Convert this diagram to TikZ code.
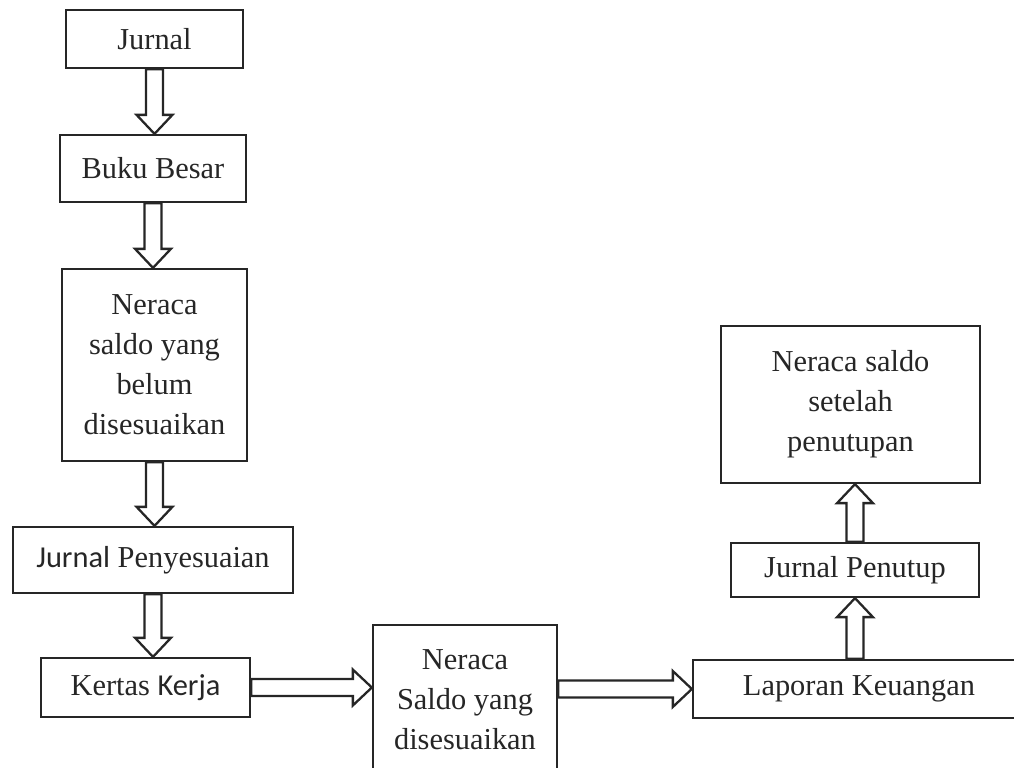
\documentclass[tikz,border=0pt]{standalone}
\usepackage{fontspec}
\setmainfont{Liberation Serif}
\newfontfamily\sansjr{Carlito}
\usetikzlibrary{calc}

\tikzset{
  box/.style={draw=black!85, line width=1.3pt, text=black!85, align=center, inner sep=0pt,
    font=\fontsize{17.3}{22.8}\selectfont},
  fatarrow/.style={draw=black!85, line width=1.3pt, fill=white, line join=miter},
}
\newcommand{\fatarrow}[2]{%
  \draw[fatarrow] let \p1=($(#2)-(#1)$), \n1={atan2(\y1,\x1)}, \n2={veclen(\x1,\y1)} in
    [shift={(#1)}, rotate=\n1] (0pt,-4.8pt) -- ({\n2*1pt-10.8pt},-4.8pt) -- ({\n2*1pt-10.8pt},-10.2pt)
    -- ({\n2*1pt},0pt) -- ({\n2*1pt-10.8pt},10.2pt) -- ({\n2*1pt-10.8pt},4.8pt) -- (0pt,4.8pt) -- cycle;}

\begin{document}
\begin{tikzpicture}[x=0.2mm,y=-0.2mm]
\useasboundingbox (0,0) rectangle (1014,767);

\node[box, minimum width=35.4mm, minimum height=11.6mm] (jurnal) at (154.5,39) {Jurnal};
\node[box, minimum width=37.2mm, minimum height=13.4mm] (buku) at (153,168.5) {Buku Besar};
\node[box, minimum width=37mm, minimum height=38.4mm] (belum) at (154.5,365) {Neraca\\saldo yang\\belum\\disesuaikan};
\node[box, minimum width=56mm, minimum height=13.2mm] (penyesuaian) at (153,560) {{\sansjr Jurnal} Penyesuaian};
\node[box, minimum width=41.8mm, minimum height=11.8mm] (kertas) at (145.5,687.5) {Kertas {\sansjr Kerja}};
\node[box, minimum width=36.8mm, minimum height=30mm] (saldo) at (465,700) {Neraca\\Saldo yang\\disesuaikan};
\node[box, minimum width=66.4mm, minimum height=11.6mm] (laporan) at (859,689) {Laporan Keuangan};
\node[box, minimum width=49.6mm, minimum height=10.8mm] (penutup) at (855,570) {Jurnal Penutup};
\node[box, minimum width=51.8mm, minimum height=31.4mm] (setelah) at (850.5,404.5) {Neraca saldo\\setelah\\penutupan};

\fatarrow{jurnal.south}{jurnal.south |- buku.north}
\fatarrow{buku.south}{buku.south |- belum.north}
\fatarrow{belum.south}{belum.south |- penyesuaian.north}
\fatarrow{penyesuaian.south}{penyesuaian.south |- kertas.north}
\fatarrow{kertas.east}{kertas.east -| saldo.west}
\fatarrow{laporan.west -| saldo.east}{laporan.west}
\fatarrow{penutup.south |- laporan.north}{penutup.south}
\fatarrow{penutup.north}{penutup.north |- setelah.south}
\end{tikzpicture}
\end{document}
